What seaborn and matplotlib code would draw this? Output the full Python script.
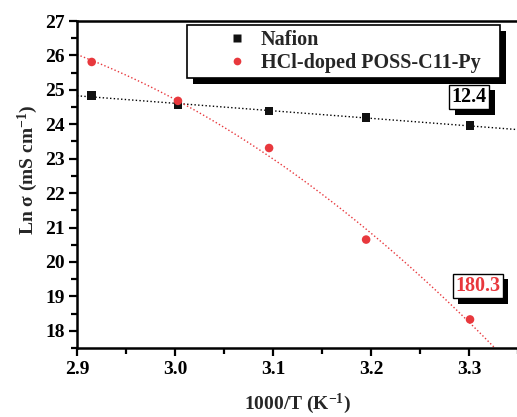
import numpy as np
import pandas as pd
import matplotlib
matplotlib.use("Agg")
import matplotlib.pyplot as plt
import matplotlib.patheffects as pe
from matplotlib.ticker import MultipleLocator
import seaborn as sns

# Data
inv_t = [2.915, 3.003, 3.096, 3.195, 3.301]
nafion = [24.83, 24.56, 24.39, 24.19, 23.96]
poss = [25.81, 24.68, 23.31, 20.65, 18.33]
labels = ["Nafion", "HCl-doped POSS-C11-Py"]
ea_values = ["12.4", "180.3"]

red = "#e8383d"

sns.set_style("white")
plt.rcParams["font.family"] = ["Liberation Serif", "DejaVu Serif"]
plt.rcParams["font.weight"] = "bold"
plt.rcParams["mathtext.fontset"] = "custom"
plt.rcParams["mathtext.rm"] = "Liberation Serif:bold"
plt.rcParams["mathtext.default"] = "rm"

df = pd.DataFrame({
    "x": inv_t * 2,
    "y": nafion + poss,
    "Sample": [labels[0]] * 5 + [labels[1]] * 5,
})

fig = plt.figure(figsize=(5.17, 4.17), dpi=100)
ax = fig.add_axes([77 / 517, 1 - 348 / 417, 1 - 77 / 517 + 0.002, (348 - 21) / 417])
ax.set_xlim(2.9, 3.35)
ax.set_ylim(17.5, 27)

# fit lines (linear for Nafion, quadratic for POSS)
sns.regplot(x=inv_t, y=nafion, order=1, ci=None, scatter=False, truncate=False,
            ax=ax, line_kws=dict(color="black", ls=":", lw=1.0))
sns.regplot(x=inv_t, y=poss, order=2, ci=None, scatter=False, truncate=False,
            ax=ax, line_kws=dict(color=red, ls=":", lw=1.0))

sns.scatterplot(data=df, x="x", y="y", hue="Sample", style="Sample",
                palette=["#111111", red], markers=["s", "o"], s=38,
                edgecolor="none", ax=ax, zorder=3)

ax.set_xticks(np.arange(2.9, 3.31, 0.1))
ax.xaxis.set_minor_locator(MultipleLocator(0.05))
ax.yaxis.set_major_locator(MultipleLocator(1))
ax.yaxis.set_minor_locator(MultipleLocator(0.5))
ax.set_xlim(2.9, 3.35)
ax.set_ylim(17.5, 27)
ax.tick_params(which="both", direction="out", width=1.6, colors="black",
               labelsize=14, bottom=True, left=True)
ax.tick_params(which="major", length=6, pad=3)
ax.tick_params(which="minor", length=4)
for lab in ax.get_xticklabels() + ax.get_yticklabels():
    lab.set_fontweight("bold")

for side in ["left", "bottom", "top"]:
    ax.spines[side].set_visible(True)
    ax.spines[side].set_linewidth(1.8)
    ax.spines[side].set_color("black")
ax.spines["right"].set_visible(False)

ax.set_xlabel("1000/T (K$^{-1}$)", fontsize=14, fontweight="bold", labelpad=10)
ax.set_ylabel("Ln σ (mS cm$^{-1}$)", fontsize=14, fontweight="bold")
ax.yaxis.set_label_coords(-0.084, 0.545)

leg = ax.legend(loc="upper left", bbox_to_anchor=(187 / 517, 1 - 25 / 417 - 0.01, 313 / 517, 0.01),
                bbox_transform=fig.transFigure, mode="expand", borderaxespad=0,
                fancybox=False, frameon=True, edgecolor="black", framealpha=1,
                fontsize=14.5, handletextpad=-1.1, borderpad=0.25, labelspacing=0.15,
                handlelength=4.5, markerscale=0.9)
leg.get_frame().set_linewidth(1.2)
leg.get_frame().set_path_effects([pe.withSimplePatchShadow(offset=(4, -4), shadow_rgbFace="black", alpha=1)])
for t in leg.get_texts():
    t.set_fontweight("bold")

box = dict(boxstyle="square,pad=0.12", fc="white", ec="black", lw=1.0)
t1 = ax.text(3.300, 24.79, ea_values[0], fontsize=14.5, fontweight="bold",
             color="black", ha="center", va="center", bbox=box, zorder=5)
t2 = ax.text(3.309, 19.30, ea_values[1], fontsize=14.5, fontweight="bold",
             color=red, ha="center", va="center", bbox=box, zorder=5)
for t in (t1, t2):
    t.get_bbox_patch().set_path_effects(
        [pe.withSimplePatchShadow(offset=(4, -4), shadow_rgbFace="black", alpha=1)])

fig.savefig("out.png", dpi=100)
